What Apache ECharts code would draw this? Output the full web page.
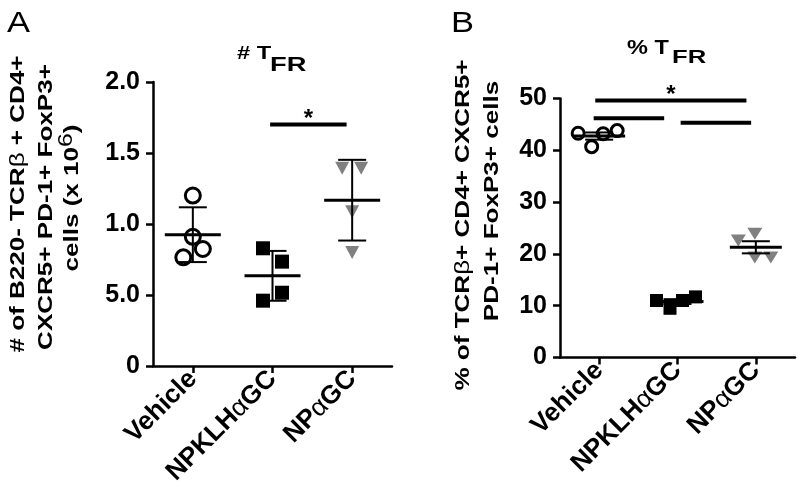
<!DOCTYPE html>
<html><head><meta charset="utf-8">
<script src="https://cdn.jsdelivr.net/npm/echarts@6/dist/echarts.min.js"></script>
<style>html,body{margin:0;padding:0;background:#fff}#c{width:799px;height:497px}</style>
</head><body><div id="c"></div>
<script>
// ---------- data ----------
const categories = ['Vehicle', 'NPKLHαGC', 'NPαGC'];
const yTicksA = ['0', '5.0', '1.0', '1.5', '2.0'];
const yTicksB = ['0', '10', '20', '30', '40', '50'];
// Panel A: number of TFR cells (x10^6)
const vehicleA = [1.20, 0.91, 0.824, 0.765];
const npklhA   = [0.829, 0.735, 0.516, 0.46];
const npA      = [1.392, 1.392, 1.087, 0.80];
// Panel B: % TFR
const vehicleB = [43.3, 40.7, 43.2, 43.8];
const npklhB   = [11.0, 9.5, 11.0, 11.7];
const npB      = [22.6, 23.9, 19.3, 19.3];
// horizontal jitter of the dots (px)
const jitterA = [[0, 0, 10, -9.5], [-9.5, 9.5, 9.5, -9.5], [-10, 9, 0, 0]];
const jitterB = [[-21, -7.5, 4, 18], [-21, -7.5, 5, 18], [-17.5, -1, -1, 15]];
// significance bars: [from category, to category, y value, mark]
const sigA = [[0.97, 1.93, 1.70, '*']];
const sigB = [[-0.05, 1.88, 49.6, '*'], [-0.07, 0.83, 46.2, ''], [1.04, 1.94, 45.3, '']];

// ---------- helpers ----------
const FONT = 'Liberation Sans, Arial, Helvetica, sans-serif';
function stats(v, useSem) {
  const n = v.length, m = v.reduce((a, b) => a + b, 0) / n;
  const sd = Math.sqrt(v.reduce((a, b) => a + (b - m) * (b - m), 0) / (n - 1));
  const e = useSem ? sd / Math.sqrt(n) : sd;
  return [m, m - e, m + e];
}
const markers = [
  { symbol: 'circle', color: '#fff', border: '#000', bw: 3, rot: 0 },
  { symbol: 'rect', color: '#000', border: '#000', bw: 0, rot: 0 },
  { symbol: 'triangle', color: '#808080', border: '#808080', bw: 0, rot: 180 }
];
function scatterSeries(groups, jit, gi, sizes) {
  return groups.map((vals, g) => ({
    type: 'scatter', xAxisIndex: gi, yAxisIndex: gi, z: 3,
    symbol: markers[g].symbol, symbolRotate: markers[g].rot, symbolSize: sizes[g],
    itemStyle: { color: markers[g].color, borderColor: markers[g].border, borderWidth: markers[g].bw, opacity: 1 },
    data: vals.map((v, i) => ({ value: [g, v], symbolOffset: [jit[g][i], 0] })),
    silent: true
  }));
}
function errSeries(groups, gi, useSem, meanW, capW) {
  return {
    type: 'custom', xAxisIndex: gi, yAxisIndex: gi, z: 4, silent: true,
    encode: { x: 0, y: [1, 2, 3] },
    data: groups.map((v, g) => [g].concat(stats(v, useSem))),
    renderItem: function (params, api) {
      const c = api.coord([api.value(0), api.value(1)]);
      const lo = api.coord([api.value(0), api.value(2)]);
      const hi = api.coord([api.value(0), api.value(3)]);
      const x = c[0];
      const st = { stroke: '#000', lineWidth: 2 };
      return { type: 'group', children: [
        { type: 'line', shape: { x1: x - meanW / 2, y1: c[1], x2: x + meanW / 2, y2: c[1] }, style: { stroke: '#000', lineWidth: 3 } },
        { type: 'line', shape: { x1: x, y1: lo[1], x2: x, y2: hi[1] }, style: st },
        { type: 'line', shape: { x1: x - capW / 2, y1: lo[1], x2: x + capW / 2, y2: lo[1] }, style: st },
        { type: 'line', shape: { x1: x - capW / 2, y1: hi[1], x2: x + capW / 2, y2: hi[1] }, style: st }
      ] };
    }
  };
}
function sigSeries(sig, gi) {
  return {
    type: 'custom', xAxisIndex: gi, yAxisIndex: gi, z: 5, silent: true,
    encode: { x: 0, y: 1 },
    data: sig.map(s => [0, s[2], s[0], s[1]]),
    renderItem: function (params, api) {
      const p0 = api.coord([0, api.value(1)]);
      const bw = api.size([1, 0])[0];
      const x1 = p0[0] + api.value(2) * bw, x2 = p0[0] + api.value(3) * bw, y = p0[1];
      const ch = [{ type: 'line', shape: { x1: x1, y1: y, x2: x2, y2: y }, style: { stroke: '#000', lineWidth: 4 } }];
      const mark = sig[params.dataIndex][3];
      if (mark) ch.push({ type: 'text', x: (x1 + x2) / 2, y: y + 7,
        style: { text: mark, fontSize: 24, fontWeight: 'bold', fontFamily: FONT, fill: '#000', align: 'center', verticalAlign: 'bottom' } });
      return { type: 'group', children: ch };
    }
  };
}
function xAxisCfg(gi) {
  return {
    type: 'category', gridIndex: gi, data: categories, boundaryGap: true,
    axisLine: { show: true, lineStyle: { color: '#000', width: 2.5 } },
    axisTick: { show: true, alignWithLabel: true, length: 7, lineStyle: { color: '#000', width: 2.5 } },
    axisLabel: {
      rotate: 45, margin: 9, color: '#000', fontSize: 26, fontWeight: 'bold', fontFamily: FONT,
      formatter: v => v.replace('α', '{a|α}'),
      rich: { a: { fontSize: 26, fontWeight: 'normal', fontFamily: FONT, color: '#000' } }
    }
  };
}
function yAxisCfg(gi, max, interval, ticks) {
  return {
    type: 'value', gridIndex: gi, min: 0, max: max, interval: interval,
    splitLine: { show: false },
    axisLine: { show: true, lineStyle: { color: '#000', width: 2.5 } },
    axisTick: { show: true, length: 7, lineStyle: { color: '#000', width: 2.5 } },
    axisLabel: { margin: 13, color: '#000', fontSize: 25, fontWeight: 'bold', fontFamily: FONT,
      formatter: v => ticks[Math.round(v / interval)] }
  };
}
function rotText(x, y, text, rich) {
  return { type: 'text', x: x, y: y, rotation: Math.PI / 2, scaleX: 1.24, silent: true,
    style: { text: text, fontSize: 21, fontWeight: 'bold', fontFamily: FONT, fill: '#000',
      align: 'center', verticalAlign: 'middle', rich: rich } };
}
function plainText(x, y, text, size, weight, sx) {
  return { type: 'text', x: x, y: y, scaleX: sx || 1, silent: true,
    style: { text: text, fontSize: size, fontWeight: weight, fontFamily: FONT, fill: '#000', align: 'left', verticalAlign: 'middle' } };
}

const chart = echarts.init(document.getElementById('c'), null, { renderer: 'canvas' });
chart.setOption({
  backgroundColor: '#fff',
  animation: false,
  grid: [
    { left: 153, top: 82, width: 239, height: 284 },
    { left: 560, top: 98.5, width: 235, height: 259 }
  ],
  xAxis: [xAxisCfg(0), xAxisCfg(1)],
  yAxis: [yAxisCfg(0, 2, 0.5, yTicksA), yAxisCfg(1, 50, 10, yTicksB)],
  series: [].concat(
    scatterSeries([vehicleA, npklhA, npA], jitterA, 0, [15, 14, [14, 13]]),
    scatterSeries([vehicleB, npklhB, npB], jitterB, 1, [12, 13, [15, 12]]),
    [errSeries([vehicleA, npklhA, npA], 0, false, 56, 28),
     errSeries([vehicleB, npklhB, npB], 1, true, 52, 28),
     sigSeries(sigA, 0), sigSeries(sigB, 1)]
  ),
  graphic: [
    plainText(7, 24, 'A', 30, 'normal', 1.15),
    plainText(451, 24, 'B', 30, 'normal', 1.15),
    plainText(237, 54, '# T', 19, 'bold', 1.25),
    plainText(270, 65, 'FR', 21, 'bold', 1.3),
    plainText(627, 48.5, '% T', 21, 'bold', 1.12),
    plainText(672, 58, 'FR', 19, 'bold', 1.35),
    rotText(18, 204, '# of B220- TCR{g|β} + CD4+', { g: { fontSize: 21, fontWeight: 'normal', fontFamily: FONT } }),
    rotText(46, 207, 'CXCR5+ PD-1+ FoxP3+'),
    rotText(72, 198, '{m|cells (x 10}{s|6}{m|)}', {
      m: { fontSize: 21, fontWeight: 'bold', fontFamily: FONT, lineHeight: 32, verticalAlign: 'middle' },
      s: { fontSize: 20, fontWeight: 'normal', fontFamily: FONT, lineHeight: 20, verticalAlign: 'top' } }),
    rotText(463, 225, '% of TCR{g|β}+ CD4+ CXCR5+', { g: { fontSize: 21, fontWeight: 'normal', fontFamily: FONT } }),
    rotText(492, 201, 'PD-1+ FoxP3+ cells')
  ]
});
</script></body></html>
